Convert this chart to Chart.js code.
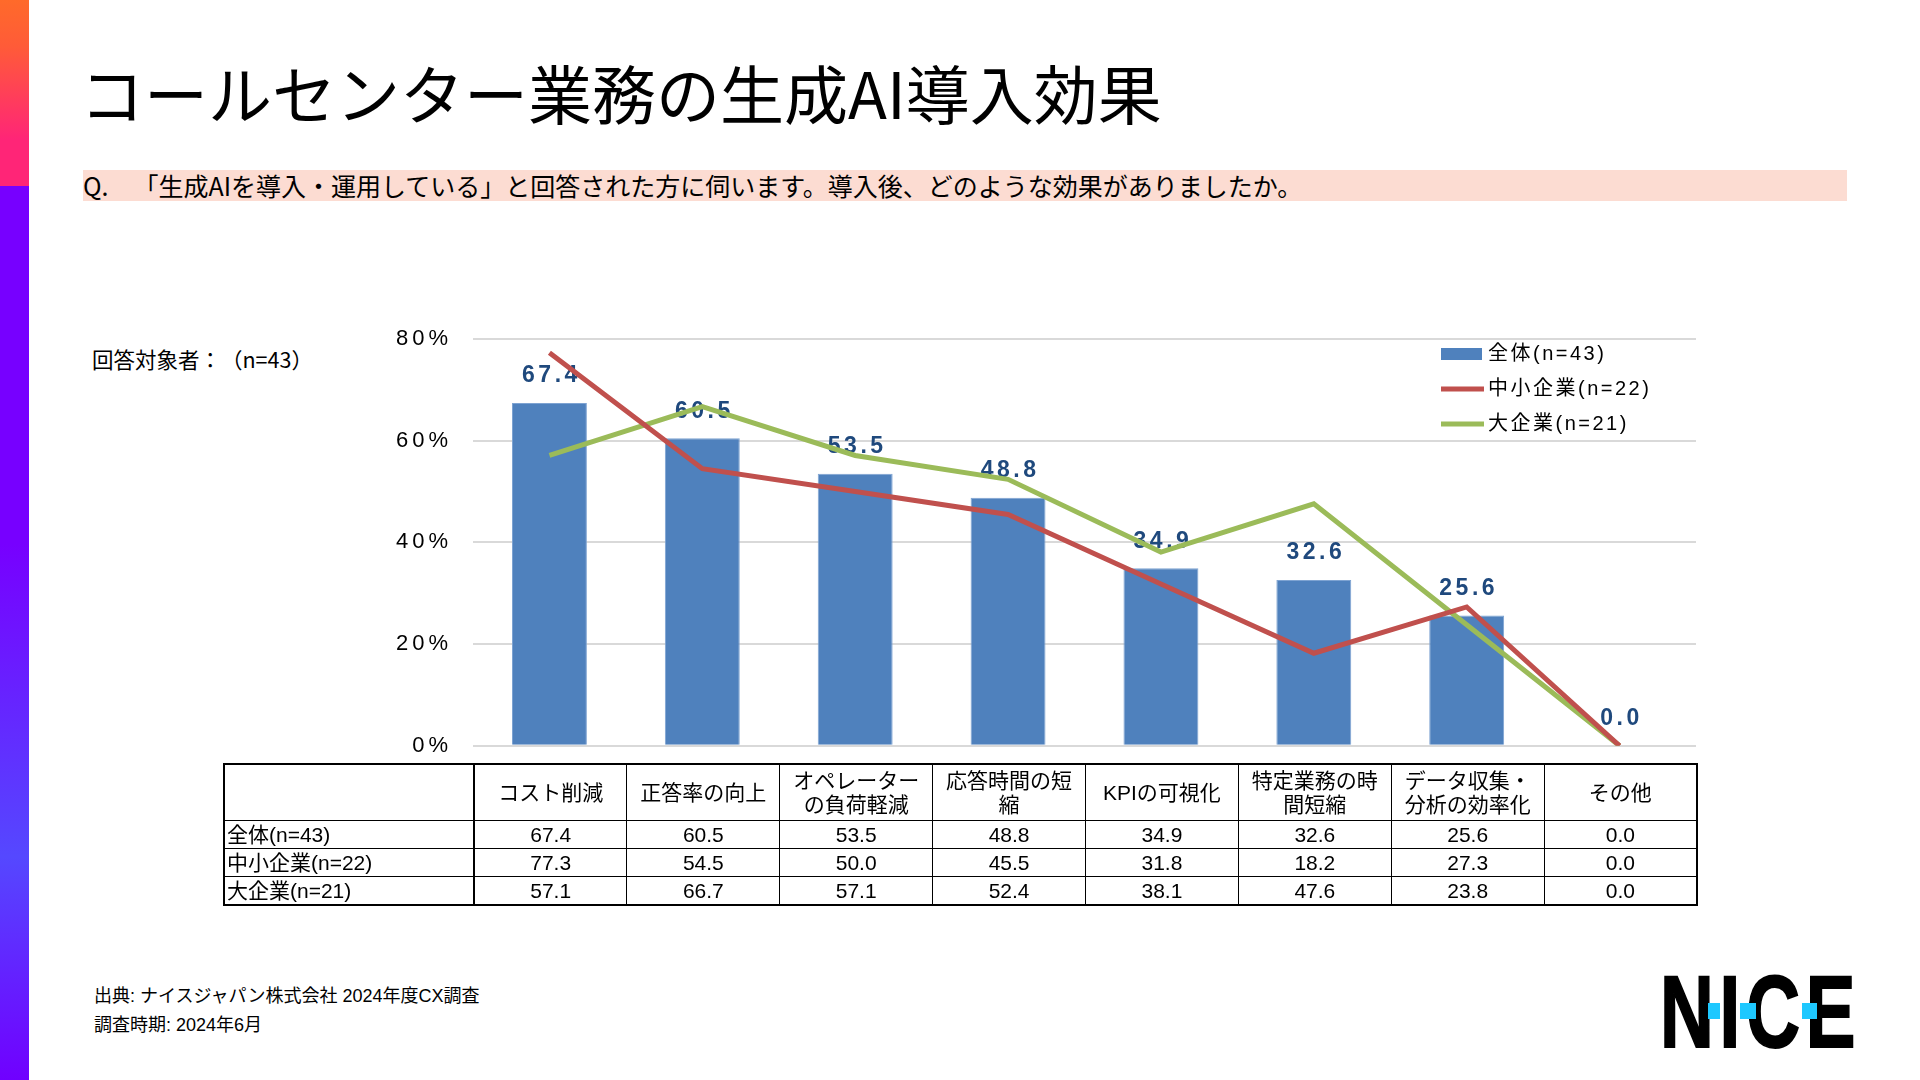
<!DOCTYPE html>
<html lang="ja">
<head>
<meta charset="utf-8">
<title>コールセンター業務の生成AI導入効果</title>
<script src="https://cdn.jsdelivr.net/npm/chart.js@4.4.1/dist/chart.umd.min.js"></script>
<style>
html,body{margin:0;padding:0;background:#fff;}
body{width:1920px;height:1080px;position:relative;overflow:hidden;font-family:'Noto Sans CJK JP',sans-serif;color:#000;text-spacing-trim:space-all;}
.stripe-top{position:absolute;left:0;top:0;width:29px;height:186px;background:linear-gradient(180deg,#ff6a2a 0%,#ff5b38 25%,#ff2577 75%,#ff2577 100%);}
.stripe-bot{position:absolute;left:0;top:186px;width:29px;height:894px;background:linear-gradient(180deg,#7700ff 0%,#7700ff 40%,#5548ff 75%,#7000ff 100%);}
.title{position:absolute;left:80px;top:59px;font-size:64px;line-height:1;white-space:nowrap;}
.question{position:absolute;left:83px;top:170px;width:1764px;height:31px;background:#fcdcd2;font-size:25px;line-height:31px;white-space:nowrap;}
.note{position:absolute;left:92px;top:348px;font-size:21.5px;line-height:1;white-space:nowrap;}
#chartBox{position:absolute;left:360px;top:300px;width:1360px;height:480px;}
#tbl{position:absolute;top:763px;border-collapse:collapse;table-layout:fixed;font-family:'Liberation Sans','Noto Sans CJK JP',sans-serif;font-size:21px;border:2px solid #000;}
#tbl td{padding:0;border:1px solid #000;white-space:nowrap;overflow:hidden;}
#tbl td.num{text-align:center;border-left:1px dotted #444;}
#tbl td.first{border-left:2px solid #000;}
#tbl td.lab{text-align:left;padding-left:2px;border-right:2px solid #000;}
#tbl tr.head td{height:55px;line-height:24px;text-align:center;vertical-align:middle;}
#tbl tr.row td{height:27px;line-height:27px;}
.foot{position:absolute;left:94px;font-family:'Liberation Sans','Noto Sans CJK JP',sans-serif;font-size:18px;line-height:20px;white-space:nowrap;}
.logo{position:absolute;left:1660px;top:961px;font-family:'Liberation Sans',sans-serif;font-weight:bold;font-size:102px;line-height:102px;letter-spacing:8px;transform:scaleX(0.73);transform-origin:left top;white-space:nowrap;-webkit-text-stroke:2px #000;}
.dot{position:absolute;top:1003px;height:16px;background:#1ec8ff;}
</style>
</head>
<body>
<div class="stripe-top"></div>
<div class="stripe-bot"></div>
<div class="title">コールセンター業務の生成AI導入効果</div>
<div class="question">Q.　「生成AIを導入・運用している」と回答された方に伺います。導入後、どのような効果がありましたか。</div>
<div class="note">回答対象者：（n=43）</div>
<div id="chartBox"><canvas id="c"></canvas></div>
<table id="tbl"></table>
<div class="foot" style="top:986px">出典: ナイスジャパン株式会社 2024年度CX調査</div>
<div class="foot" style="top:1015px">調査時期: 2024年6月</div>
<div class="logo">NICE</div>
<div class="dot" style="left:1708px;width:12px"></div>
<div class="dot" style="left:1740px;width:16px"></div>
<div class="dot" style="left:1802px;width:15px"></div>
<script>
// categories (multi-line labels as in the table header)
const categories = [['コスト削減'], ['正答率の向上'], ['オペレーター', 'の負荷軽減'], ['応答時間の短', '縮'],
  ['KPIの可視化'], ['特定業務の時', '間短縮'], ['データ収集・', '分析の効率化'], ['その他']];
const seriesNames = ['全体(n=43)', '中小企業(n=22)', '大企業(n=21)'];
const total = [67.4, 60.5, 53.5, 48.8, 34.9, 32.6, 25.6, 0.0];
const sme = [77.3, 54.5, 50.0, 45.5, 31.8, 18.2, 27.3, 0.0];
const large = [57.1, 66.7, 57.1, 52.4, 38.1, 47.6, 23.8, 0.0];
const yTicks = [0, 20, 40, 60, 80];

// spaced tick text, reset before the datasets
const spacing = {
  id: 'spacing',
  beforeDraw(chart){ chart.ctx.letterSpacing = '4px'; },
  beforeDatasetsDraw(chart){ chart.ctx.letterSpacing = '0px'; }
};

// value labels over the bars, drawn under the lines
const barLabels = {
  id: 'barLabels',
  afterDatasetDraw(chart, args){
    if (args.meta.type !== 'bar') return;
    const ctx = chart.ctx;
    const vals = chart.data.datasets[args.index].data;
    ctx.save();
    ctx.font = 'bold 23px "Liberation Sans"';
    ctx.letterSpacing = '3.5px';
    ctx.fillStyle = '#1F497D';
    ctx.textAlign = 'center';
    ctx.textBaseline = 'middle';
    args.meta.data.forEach(function(bar, i){
      ctx.fillText(vals[i].toFixed(1), bar.x + 2, bar.y - 27);
    });
    ctx.restore();
  }
};

// legend inside the plot, top right
const boxLegend = {
  id: 'boxLegend',
  afterDraw(chart){
    const ctx = chart.ctx, ca = chart.chartArea;
    const x0 = ca.right - 255, y0 = ca.top + 15;
    chart.data.datasets.forEach(function(ds, i){
      const y = y0 + i * 35;
      ctx.save();
      if (ds.type === 'bar') {
        ctx.fillStyle = ds.backgroundColor;
        ctx.fillRect(x0, y - 6, 41, 12);
      } else {
        ctx.strokeStyle = ds.borderColor;
        ctx.lineWidth = 5;
        ctx.beginPath(); ctx.moveTo(x0, y); ctx.lineTo(x0 + 43, y); ctx.stroke();
      }
      ctx.fillStyle = '#000';
      ctx.font = '20px "Liberation Sans", "Noto Sans CJK JP"';
      ctx.letterSpacing = '2.5px';
      ctx.textBaseline = 'middle';
      ctx.fillText(ds.label, x0 + 47, y);
      ctx.restore();
    });
  }
};

const chart = new Chart(document.getElementById('c'), {
  type: 'bar',
  data: {
    labels: categories,
    datasets: [
      {type: 'bar', label: seriesNames[0], data: total, backgroundColor: '#4F81BD',
        borderColor: '#7EA3D2', borderWidth: 1, categoryPercentage: 1, barPercentage: 0.49, order: 3},
      {type: 'line', label: seriesNames[1], data: sme, borderColor: '#C0504D', borderWidth: 5,
        pointRadius: 0, fill: false, tension: 0, order: 1},
      {type: 'line', label: seriesNames[2], data: large, borderColor: '#9BBB59', borderWidth: 5,
        pointRadius: 0, fill: false, tension: 0, order: 2}
    ]
  },
  options: {
    responsive: true,
    maintainAspectRatio: false,
    animation: false,
    layout: {padding: {left: 0, top: 39, right: 24, bottom: 15.5}},
    plugins: {legend: {display: false}, tooltip: {enabled: false}},
    scales: {
      x: {display: false},
      y: {
        min: 0, max: 80,
        afterFit: function(s){ s.width = 113; },
        afterBuildTicks: function(s){ s.ticks = yTicks.map(function(v){ return {value: v}; }); },
        grid: {color: '#D9D9D9', lineWidth: 2, drawTicks: false},
        border: {display: false},
        ticks: {padding: 21, color: '#000', font: {family: 'Liberation Sans', size: 22},
          callback: function(v){ return v + '%'; }}
      }
    }
  },
  plugins: [spacing, barLabels, boxLegend]
});

// data table under the chart, columns follow the x scale
(function(){
  const ca = chart.chartArea;
  const colW = (ca.right - ca.left) / categories.length;
  const firstW = 250;
  const tbl = document.getElementById('tbl');
  tbl.style.left = (360 + ca.left - firstW) + 'px';
  let html = '<colgroup><col style="width:' + firstW + 'px">';
  categories.forEach(function(){ html += '<col style="width:' + colW + 'px">'; });
  html += '</colgroup><tr class="head"><td class="lab"></td>';
  categories.forEach(function(c, i){
    html += '<td class="num' + (i === 0 ? ' first' : '') + '">' + c.join('<br>') + '</td>';
  });
  html += '</tr>';
  [total, sme, large].forEach(function(arr, r){
    html += '<tr class="row"><td class="lab">' + seriesNames[r] + '</td>';
    arr.forEach(function(v, i){
      html += '<td class="num' + (i === 0 ? ' first' : '') + '">' + v.toFixed(1) + '</td>';
    });
    html += '</tr>';
  });
  tbl.innerHTML = html;
})();
</script>
</body>
</html>
